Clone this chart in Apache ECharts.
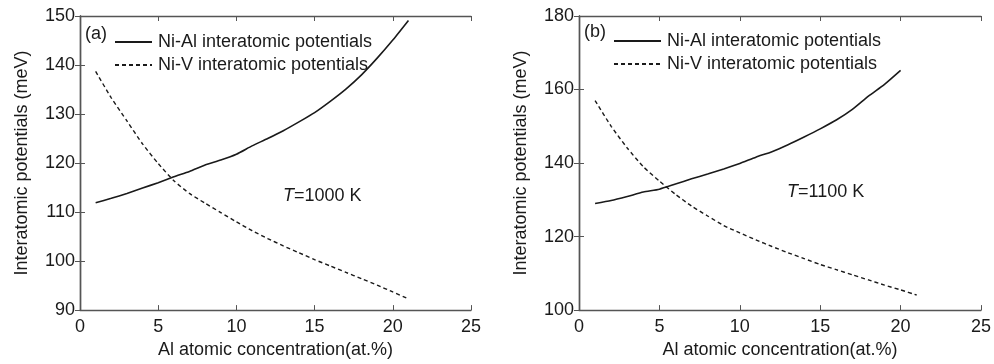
<!DOCTYPE html>
<html>
<head>
<meta charset="utf-8">
<script src="https://cdn.jsdelivr.net/npm/echarts@6/dist/echarts.min.js"></script>
<style>
  html, body { margin: 0; padding: 0; background: #fff; }
  #chart { width: 994px; height: 364px; }
</style>
</head>
<body>
<div id="chart"></div>
<script>
const xValues = [1, 2, 3, 4, 5, 6, 7, 8, 9, 10, 11, 12, 13, 14, 15, 16, 17, 18, 19, 20, 21];
const xValuesB = [1, 2, 3, 4, 5, 6, 7, 8, 9, 10, 11, 12, 13, 14, 15, 16, 17, 18, 19, 20];

// panel (a), T = 1000 K
const niAlA = [111.9, 112.8, 113.8, 114.9, 116.0, 117.2, 118.3, 119.6, 120.6, 121.8, 123.5, 125.0, 126.6, 128.4, 130.3, 132.6, 135.1, 138.0, 141.4, 145.1, 149.1];
const niVA = [138.7, 133.3, 128.6, 123.9, 119.9, 116.4, 113.8, 111.8, 109.9, 108.0, 106.2, 104.6, 103.1, 101.7, 100.3, 99.0, 97.7, 96.4, 95.1, 93.7, 92.3];

// panel (b), T = 1100 K
const niAlB = [129.0, 129.8, 130.9, 132.1, 132.9, 134.3, 135.7, 137.0, 138.4, 139.9, 141.6, 143.1, 145.0, 147.1, 149.3, 151.7, 154.6, 158.2, 161.4, 165.2];
const niVB = [157.0, 150.0, 144.1, 139.0, 135.1, 131.5, 128.3, 125.6, 123.0, 121.0, 119.1, 117.3, 115.6, 114.0, 112.4, 111.0, 109.6, 108.2, 106.8, 105.5, 104.1];

const seriesNames = ['Ni-Al interatomic potentials', 'Ni-V interatomic potentials'];
const xName = 'Al atomic concentration(at.%)';
const yName = 'Interatomic potentials (meV)';

const ink = '#1a1a1a';
const frame = '#555';
const font = 'Liberation Sans, Arial, sans-serif';
const fs = 18;

function pairs(xs, ys) {
  return ys.map((y, i) => [xs[i], y]);
}

function xAxisPair(gridIndex) {
  const base = {
    gridIndex,
    type: 'value',
    min: 0,
    max: 25,
    interval: 5,
    splitLine: { show: false },
    axisLine: { lineStyle: { color: frame, width: 1.4 } },
    axisTick: { inside: true, length: 5, lineStyle: { color: frame } },
  };
  return [
    {
      ...base,
      position: 'bottom',
      name: xName,
      nameLocation: 'middle',
      nameGap: 28,
      nameTextStyle: { color: ink, fontSize: fs, fontFamily: font },
      axisLabel: { color: ink, fontSize: fs, fontFamily: font, margin: 8 },
    },
    { ...base, position: 'top', axisLabel: { show: false } },
  ];
}

function yAxisPair(gridIndex, min, max, interval) {
  const base = {
    gridIndex,
    type: 'value',
    min,
    max,
    interval,
    splitLine: { show: false },
    axisLine: { show: true, lineStyle: { color: frame, width: 1.4 } },
    axisTick: { show: true, inside: true, length: 5, lineStyle: { color: frame } },
  };
  return [
    {
      ...base,
      position: 'left',
      name: yName,
      nameLocation: 'middle',
      nameGap: 49,
      nameTextStyle: { color: ink, fontSize: fs, fontFamily: font },
      axisLabel: { color: ink, fontSize: fs, fontFamily: font, margin: 5 },
    },
    { ...base, position: 'right', axisLabel: { show: false } },
  ];
}

function lineSeries(name, xAxisIndex, yAxisIndex, data, dashed) {
  return {
    name,
    type: 'line',
    xAxisIndex,
    yAxisIndex,
    data,
    symbol: 'none',
    smooth: 0.2,
    lineStyle: { color: ink, width: dashed ? 1.4 : 1.6, type: dashed ? [4, 3] : 'solid' },
    itemStyle: { color: ink },
  };
}

function legendAt(left, top, width) {
  return {
    orient: 'vertical',
    left,
    top,
    padding: 0,
    itemGap: 5,
    itemWidth: width,
    itemHeight: 18,
    data: seriesNames,
    selectedMode: false,
    itemStyle: { color: 'transparent', borderColor: 'transparent', borderWidth: 0 },
    textStyle: { color: ink, fontSize: fs, fontFamily: font, padding: [0, 0, 0, 1] },
  };
}

function panelText(text, left, top) {
  return {
    text,
    left,
    top,
    padding: 0,
    textStyle: {
      color: ink,
      fontSize: fs,
      fontWeight: 'normal',
      fontFamily: font,
      rich: {
        it: { fontStyle: 'italic', fontSize: fs, fontFamily: font, color: ink },
      },
    },
  };
}

const chart = echarts.init(document.getElementById('chart'));
chart.setOption({
  animation: false,
  backgroundColor: '#fff',
  title: [
    panelText('(a)', 85, 25),
    panelText('{it|T}=1000 K', 283, 187),
    panelText('(b)', 584, 23),
    panelText('{it|T}=1100 K', 787, 183),
  ],
  legend: [legendAt(114, 33, 37), legendAt(613, 32, 47)],
  grid: [
    { left: 80, top: 16, width: 391, height: 296 },
    { left: 579, top: 16, width: 402, height: 295 },
  ],
  xAxis: [...xAxisPair(0), ...xAxisPair(1)],
  yAxis: [...yAxisPair(0, 90, 150, 10), ...yAxisPair(1, 100, 180, 20)],
  series: [
    lineSeries(seriesNames[0], 0, 0, pairs(xValues, niAlA), false),
    lineSeries(seriesNames[1], 0, 0, pairs(xValues, niVA), true),
    lineSeries(seriesNames[0], 2, 2, pairs(xValuesB, niAlB), false),
    lineSeries(seriesNames[1], 2, 2, pairs(xValues, niVB), true),
  ],
});
</script>
</body>
</html>
